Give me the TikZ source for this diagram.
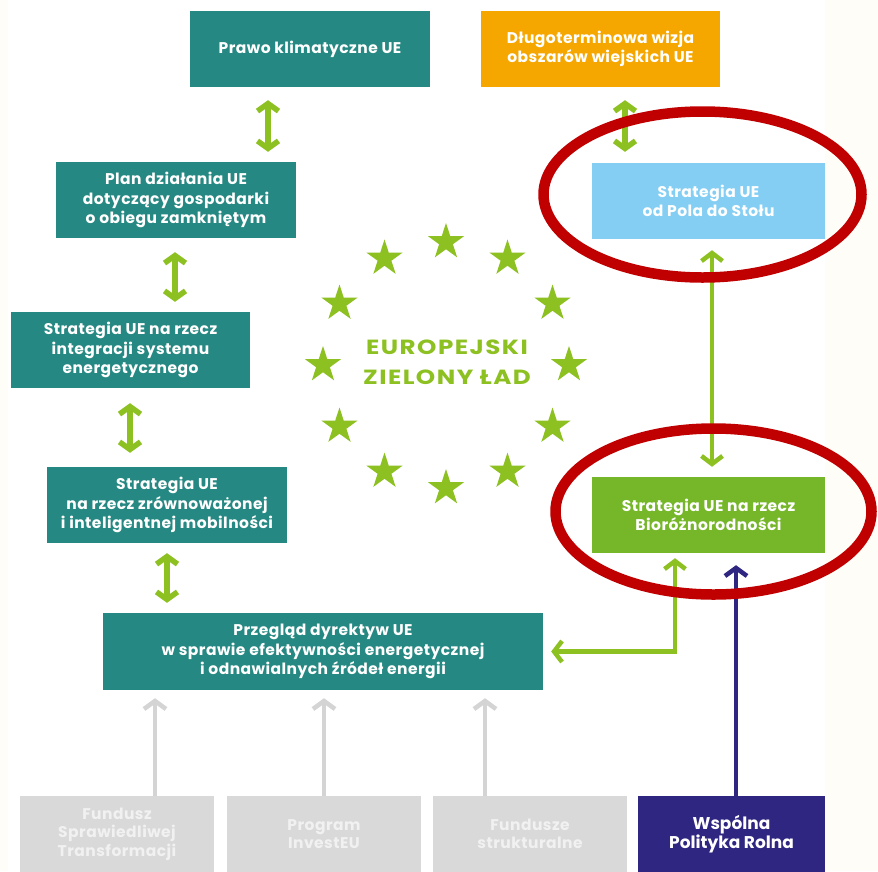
\documentclass[tikz,border=0pt]{standalone}
\usepackage{fontspec}
\setmainfont{Poppins}
\usetikzlibrary{arrows.meta,shapes.geometric}
\definecolor{cteal}{HTML}{268882}
\definecolor{corange}{HTML}{F5A700}
\definecolor{cblue}{HTML}{84CEF4}
\definecolor{cgreen}{HTML}{76B72A}
\definecolor{clime}{HTML}{8DC021}
\definecolor{cgray}{HTML}{D9D9D9}
\definecolor{cgrayarr}{HTML}{D4D4D4}
\definecolor{cgraytxt}{HTML}{F1F1F1}
\definecolor{cnavy}{HTML}{2E2681}
\definecolor{cred}{HTML}{C00000}
\definecolor{ccream}{HTML}{FFFDF7}
\begin{document}
\begin{tikzpicture}[x=1pt,y=-1pt,
  box/.style={rectangle, minimum height=76pt, inner sep=0pt, text=white, align=center,
    font=\bfseries\fontsize{15.5}{19.5}\selectfont\addfontfeatures{LetterSpace=3}},
  fundbox/.style={box, fill=cgray, text=cgraytxt, minimum height=76pt,
    font=\bfseries\fontsize{15.5}{18.5}\selectfont\addfontfeatures{LetterSpace=3}},
  dbl/.style={draw=clime, line width=5.5pt,
    {Straight Barb[length=7.5pt,width=21pt]}-{Straight Barb[length=7.5pt,width=21pt]}},
  longarr/.style={draw=clime, line width=4.5pt,
    {Straight Barb[length=8pt,width=21pt]}-{Straight Barb[length=8pt,width=21pt]}},
  grayarr/.style={draw=cgrayarr, line width=4.5pt, -{Straight Barb[length=8pt,width=22pt]}},
  navyarr/.style={draw=cnavy, line width=4.5pt, -{Straight Barb[length=8pt,width=22pt]}},
  starshape/.style={star, star points=5, star point ratio=2.618, fill=clime, draw=none,
    minimum size=38pt, inner sep=0pt},
  redring/.style={draw=cred, line width=10.5pt}
]
\useasboundingbox (0,0) rectangle (878,871);
\fill[ccream] (0,0) rectangle (878,871);
\fill[white] (8,0) rectangle (825,871);

% boxes
\node[box, fill=cteal, minimum width=240pt] (prawo) at (310,49) {Prawo klimatyczne UE};
\node[box, fill=corange, minimum width=239pt] (dlugo) at (600.5,49) {Długoterminowa wizja\\obszarów wiejskich UE};
\node[box, fill=cteal, minimum width=240pt] (plan) at (176,200) {Plan działania UE\\dotyczący gospodarki\\o obiegu zamkniętym};
\node[box, fill=cteal, minimum width=239pt] (integr) at (130.5,350) {Strategia UE na rzecz\\integracji systemu\\energetycznego};
\node[box, fill=cteal, minimum width=240pt] (mobil) at (167,505) {Strategia UE\\na rzecz zrównoważonej\\i inteligentnej mobilności};
\node[box, fill=cteal, minimum width=440pt, minimum height=77pt] (przeg) at (323,651.5) {Przegląd dyrektyw UE\\w sprawie efektywności energetycznej\\i odnawialnych źródeł energii};
\node[box, fill=cblue, minimum width=233pt] (pola) at (708.5,201) {Strategia UE\\od Pola do Stołu};
\node[box, fill=cgreen, minimum width=233pt] (bio) at (708.5,515) {Strategia UE na rzecz\\Bioróżnorodności};
\node[fundbox, minimum width=194pt] (f1) at (117,834) {Fundusz\\Sprawiedliwej\\Transformacji};
\node[fundbox, minimum width=194pt] (f2) at (324,834) {Program\\InvestEU};
\node[fundbox, minimum width=194pt] (f3) at (530,834) {Fundusze\\strukturalne};
\node[box, fill=cnavy, minimum width=187pt, font=\bfseries\fontsize{17}{18.5}\selectfont] (wpr) at (731.5,834) {Wspólna\\Polityka Rolna};

% stars and title
\foreach \i in {0,...,11}
  \node[starshape] (s\i) at ({446+123*cos(30*\i)},{365+123*sin(30*\i)}) {};
\node[font=\bfseries\fontsize{20.5}{30}\selectfont\addfontfeatures{LetterSpace=6}, text=clime, inner sep=0pt] (egd) at (447,363)
  {\scalebox{1.2}[1]{\begin{tabular}{@{}c@{}}EUROPEJSKI\\ZIELONY ŁAD\end{tabular}}};

% double arrows
\draw[dbl, shorten <=13pt, shorten >=10pt] ([xshift=-42pt]prawo.south) -- ([xshift=92pt]plan.north);
\draw[dbl, shorten <=13pt, shorten >=11pt] ([xshift=24.5pt]dlugo.south) -- ([xshift=-83.5pt]pola.north);
\draw[dbl, shorten <=14pt, shorten >=10pt] ([xshift=-1pt]plan.south) -- ([xshift=44.5pt]integr.north);
\draw[dbl, shorten <=15pt, shorten >=14pt] ([xshift=-0.5pt]integr.south) -- ([xshift=-37pt]mobil.north);
\draw[dbl, shorten <=10pt, shorten >=10pt] (mobil.south) -- ([xshift=-156pt]przeg.north);
\draw[longarr, shorten <=11pt, shorten >=10pt] ([xshift=3.5pt]pola.south) -- ([xshift=3.5pt]bio.south |- bio.north);
\draw[longarr, shorten <=8pt, shorten >=5pt] (przeg.east) -| ([xshift=-33.5pt]bio.south);

% funding arrows
\coordinate (g1) at ([xshift=38pt]f1.north);
\coordinate (g2) at (f2.north);
\coordinate (g3) at ([xshift=-45pt]f3.north);
\coordinate (n1) at ([xshift=4.5pt]wpr.north);
\draw[grayarr, shorten >=8pt] (g1) -- (g1 |- przeg.south);
\draw[grayarr, shorten >=8pt] (g2) -- (g2 |- przeg.south);
\draw[grayarr, shorten >=8pt] (g3) -- (g3 |- przeg.south);
\draw[navyarr, shorten >=12pt] (n1) -- (n1 |- bio.south);

% red highlight rings
\draw[redring] (702.5,194.5) ellipse [x radius=159, y radius=83];
\draw[redring] (713.5,511.5) ellipse [x radius=158, y radius=83];
\end{tikzpicture}
\end{document}
